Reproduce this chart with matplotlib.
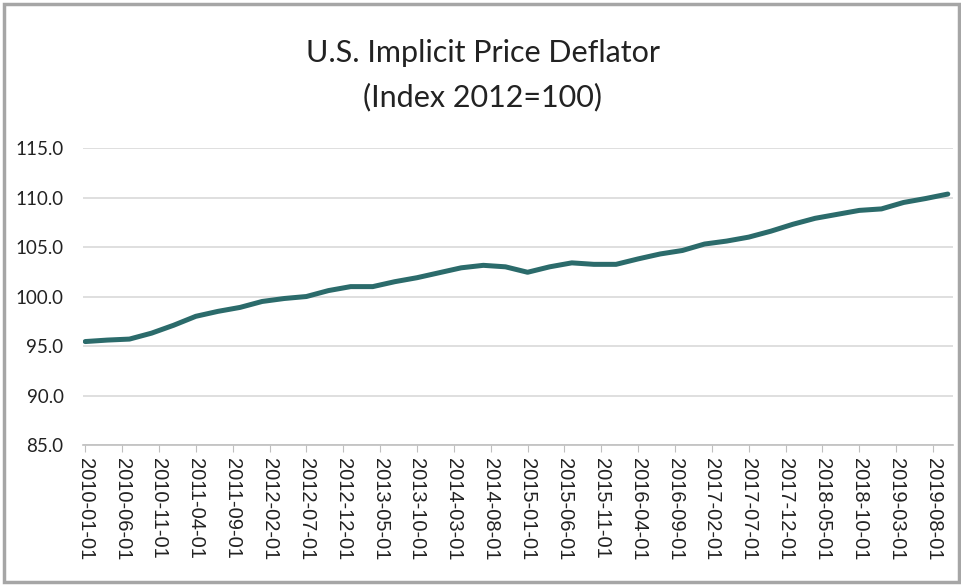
import numpy as np
import matplotlib.pyplot as plt
from matplotlib.patches import Rectangle

# quarterly observations, 2010-01-01 .. 2019-10-01 (months since 2010-01)
months = list(range(0, 118, 3))
deflator = [95.45, 95.6, 95.7, 96.3, 97.1, 98.0, 98.5, 98.9,
            99.5, 99.8, 100.0, 100.6, 101.0, 101.0, 101.5, 101.9,
            102.4, 102.9, 103.15, 103.0, 102.45, 103.0, 103.4, 103.25,
            103.25, 103.8, 104.3, 104.65, 105.3, 105.6, 106.0, 106.6,
            107.3, 107.9, 108.3, 108.7, 108.85, 109.5, 109.9, 110.35]

tick_months = list(range(0, 116, 5))
tick_labels = [f"{2010 + m // 12}-{m % 12 + 1:02d}-01" for m in tick_months]
y_ticks = [85, 90, 95, 100, 105, 110, 115]

plt.rcParams['font.family'] = ['Lato', 'DejaVu Sans']

fig = plt.figure(figsize=(9.62, 5.86), dpi=100)
ax = fig.add_axes([0.0863, 0.2406, 0.9043, 0.5068])

ax.plot(months, deflator, color='#2b6b6b', lw=3.6, solid_capstyle='round',
        solid_joinstyle='round', zorder=3)

ax.set_xlim(-0.3, 117.7)
ax.set_ylim(85, 115)
ax.set_yticks(y_ticks)
ax.set_yticklabels([f"{v:.1f}" for v in y_ticks], fontsize=13.5, color='#222222')
ax.set_xticks(tick_months)
ax.set_xticklabels(tick_labels, rotation=270, fontsize=14.5, color='#222222',
                   family=['Liberation Sans', 'DejaVu Sans'])

ax.grid(axis='y', color='#d9d9d9', lw=1.2)
ax.set_axisbelow(True)
for s in ['top', 'right', 'left']:
    ax.spines[s].set_visible(False)
ax.spines['bottom'].set_color('#bfbfbf')
ax.spines['bottom'].set_linewidth(1.2)
ax.tick_params(axis='y', length=0, pad=14)
ax.tick_params(axis='x', length=5, color='#bfbfbf', pad=4)

fig.text(0.502, 0.894, "U.S. Implicit Price Deflator", ha='center', va='baseline',
         fontsize=22, color='#222222')
fig.text(0.502, 0.819, "(Index 2012=100)", ha='center', va='baseline',
         fontsize=22, color='#222222')

# chart-area border
fig.patches.append(Rectangle((0.004, 0.006), 0.993, 0.988, transform=fig.transFigure,
                             fill=False, edgecolor='#a6a6a6', lw=2.5))

fig.savefig('out.png', dpi=100)
